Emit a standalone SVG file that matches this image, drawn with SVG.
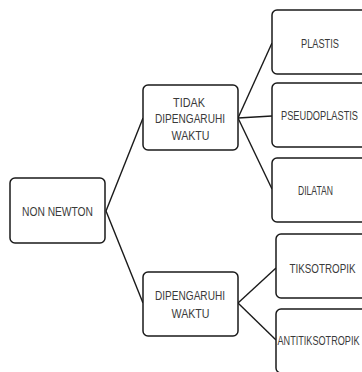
<svg xmlns="http://www.w3.org/2000/svg" width="362" height="372" viewBox="0 0 362 372">
<style>
.box{fill:#fff;stroke:#1a1a1a;stroke-width:1.5}
.lbl{font-family:"Liberation Sans",Arial,sans-serif;font-size:12.5px;fill:#3a3a3a;text-anchor:middle}
.con{stroke:#1a1a1a;stroke-width:1.4;fill:none}
</style>
<rect width="362" height="372" fill="#fff"/>
<g id="connectors">
<line class="con" x1="106" y1="211" x2="143" y2="118"/>
<line class="con" x1="106" y1="211" x2="143" y2="303"/>
<line class="con" x1="238" y1="118" x2="272" y2="43"/>
<line class="con" x1="238" y1="118" x2="272" y2="116"/>
<line class="con" x1="238" y1="118" x2="272" y2="189"/>
<line class="con" x1="238" y1="303" x2="276" y2="268"/>
<line class="con" x1="238" y1="303" x2="276" y2="340"/>
</g>
<g id="non-newton">
<rect class="box" x="10" y="178" width="95" height="65" rx="5"/>
<text class="lbl" x="57.5" y="216" textLength="71" lengthAdjust="spacingAndGlyphs">NON NEWTON</text>
</g>
<g id="tidak-dipengaruhi-waktu">
<rect class="box" x="143" y="85" width="95" height="65" rx="5"/>
<text class="lbl" x="189" y="106.5" textLength="32" lengthAdjust="spacingAndGlyphs">TIDAK</text>
<text class="lbl" x="190" y="122.5" textLength="70" lengthAdjust="spacingAndGlyphs">DIPENGARUHI</text>
<text class="lbl" x="190.5" y="139.5" textLength="38" lengthAdjust="spacingAndGlyphs">WAKTU</text>
</g>
<g id="dipengaruhi-waktu">
<rect class="box" x="143" y="272" width="95" height="64" rx="5"/>
<text class="lbl" x="190" y="299.5" textLength="70" lengthAdjust="spacingAndGlyphs">DIPENGARUHI</text>
<text class="lbl" x="190.5" y="317.5" textLength="38" lengthAdjust="spacingAndGlyphs">WAKTU</text>
</g>
<g id="plastis">
<rect class="box" x="272" y="10" width="96" height="64" rx="5"/>
<text class="lbl" x="320" y="47.5" textLength="38" lengthAdjust="spacingAndGlyphs">PLASTIS</text>
</g>
<g id="pseudoplastis">
<rect class="box" x="272" y="83" width="96" height="64" rx="5"/>
<text class="lbl" transform="translate(319.5 120) scale(0.74 1)">PSEUDOPLASTIS</text>
</g>
<g id="dilatan">
<rect class="box" x="272" y="158" width="96" height="64" rx="5"/>
<text class="lbl" x="315.5" y="194.5" textLength="35" lengthAdjust="spacingAndGlyphs">DILATAN</text>
</g>
<g id="tiksotropik">
<rect class="box" x="276" y="234" width="96" height="64" rx="5"/>
<text class="lbl" transform="translate(322.5 272.5) scale(0.785 1)">TIKSOTROPIK</text>
</g>
<g id="antitiksotropik">
<rect class="box" x="276" y="309" width="96" height="64" rx="5"/>
<text class="lbl" transform="translate(318.5 344.5) scale(0.73 1)">ANTITIKSOTROPIK</text>
</g>
</svg>
